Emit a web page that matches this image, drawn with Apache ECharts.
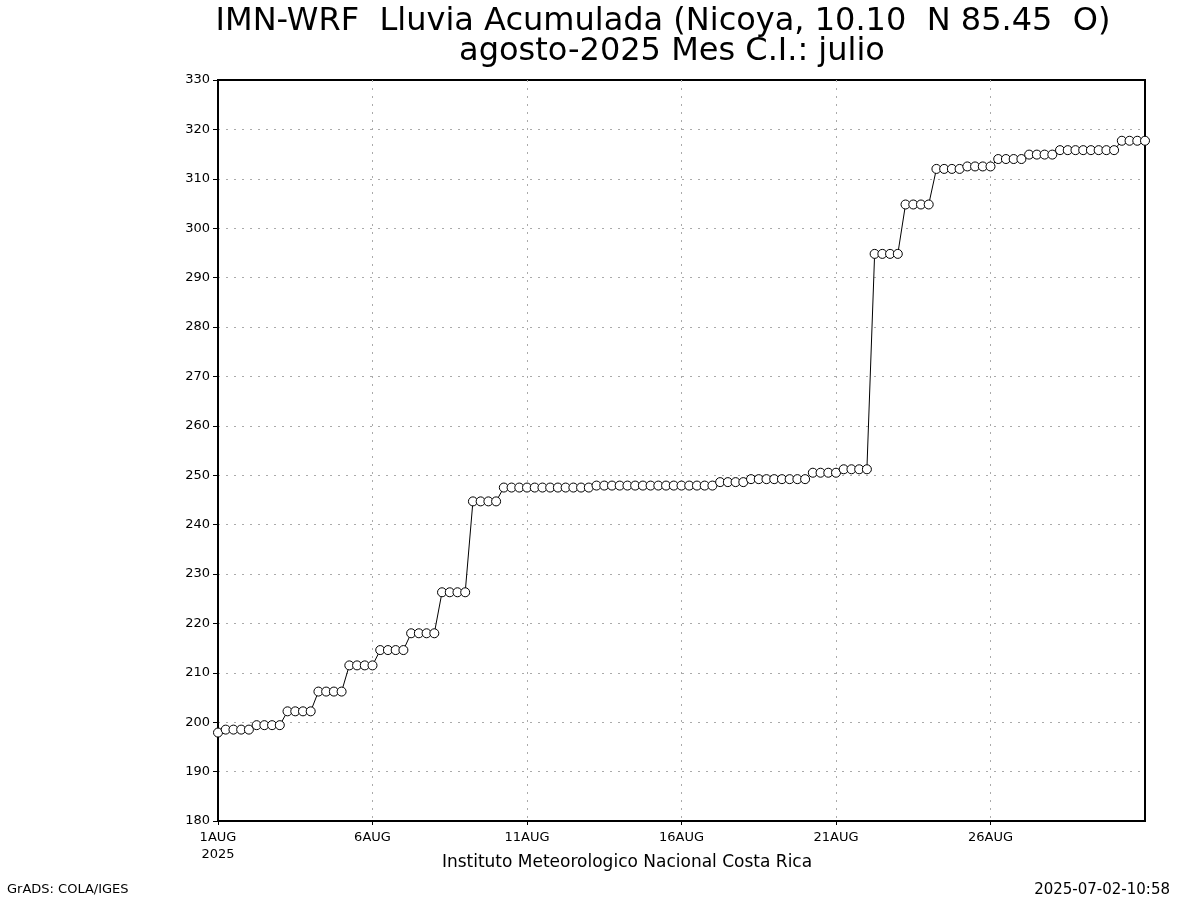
<!DOCTYPE html>
<html>
<head>
<meta charset="utf-8">
<script src="https://cdn.jsdelivr.net/npm/echarts@6/dist/echarts.min.js"></script>
<style>
html,body{margin:0;padding:0;background:#fff;}
#chart{width:1200px;height:900px;}
</style>
</head>
<body>
<div id="chart"></div>
<script>
// ---- Data ----
const titleLine1 = 'IMN-WRF  Lluvia Acumulada (Nicoya, 10.10  N 85.45  O)';
const titleLine2 = 'agosto-2025 Mes C.I.: julio';
const footerCenter = 'Instituto Meteorologico Nacional Costa Rica';
const footerLeft = 'GrADS: COLA/IGES';
const footerRight = '2025-07-02-10:58';

const xTickLabels = ['1AUG\n2025', '6AUG', '11AUG', '16AUG', '21AUG', '26AUG'];
const yTicks = { min: 180, max: 330, step: 10 };

// 6-hourly steps, 1 Aug 00Z .. 31 Aug 00Z
const hours = ['00Z', '06Z', '12Z', '18Z'];
const categories = [];
for (let d = 1; d <= 31; d++) {
  for (let h = 0; h < 4; h++) {
    if (d === 31 && h > 0) break;
    categories.push(hours[h] + d + 'AUG2025');
  }
}

// accumulated rainfall (mm)
const rainfall = [
  197.9,
  198.5, 198.5, 198.5, 198.5,
  199.4, 199.4, 199.4, 199.4,
  202.2, 202.2, 202.2, 202.2,
  206.2, 206.2, 206.2, 206.2,
  211.5, 211.5, 211.5, 211.5,
  214.6, 214.6, 214.6, 214.6,
  218.0, 218.0, 218.0, 218.0,
  226.3, 226.3, 226.3, 226.3,
  244.7, 244.7, 244.7, 244.7,
  247.5, 247.5, 247.5, 247.5, 247.5, 247.5, 247.5, 247.5, 247.5, 247.5, 247.5, 247.5,
  247.9, 247.9, 247.9, 247.9, 247.9, 247.9, 247.9, 247.9,
  247.9, 247.9, 247.9, 247.9, 247.9, 247.9, 247.9, 247.9,
  248.6, 248.6, 248.6, 248.6,
  249.2, 249.2, 249.2, 249.2, 249.2, 249.2, 249.2, 249.2,
  250.5, 250.5, 250.5, 250.5,
  251.2, 251.2, 251.2, 251.2,
  294.8, 294.8, 294.8, 294.8,
  304.8, 304.8, 304.8, 304.8,
  312.0, 312.0, 312.0, 312.0,
  312.5, 312.5, 312.5, 312.5,
  314.0, 314.0, 314.0, 314.0,
  314.9, 314.9, 314.9, 314.9,
  315.8, 315.8, 315.8, 315.8, 315.8, 315.8, 315.8, 315.8,
  317.7, 317.7, 317.7, 317.7
];

// ---- Chart ----
const FONT = 'DejaVu Sans';
const every5Days = (idx) => idx % 20 === 0 && idx < categories.length - 1;
const chart = echarts.init(document.getElementById('chart'), null, { renderer: 'canvas' });

chart.setOption({
  backgroundColor: '#ffffff',
  animation: false,
  grid: {
    left: 218, right: 55, top: 80, bottom: 79,
    show: true, borderColor: '#000', borderWidth: 2, backgroundColor: 'transparent'
  },
  xAxis: {
    type: 'category',
    data: categories,
    boundaryGap: false,
    axisLine: { show: true, lineStyle: { color: '#000', width: 2 } },
    axisTick: { show: true, interval: (i) => every5Days(i), length: 4, lineStyle: { color: '#000' } },
    axisLabel: {
      interval: (i) => every5Days(i),
      formatter: (v, i) => xTickLabels[i / 20] || '',
      color: '#000', fontFamily: FONT, fontSize: 13, lineHeight: 17, margin: 8
    },
    splitLine: { show: true, interval: (i) => every5Days(i) && i > 0, lineStyle: { color: '#aaa', type: [2, 6], width: 1 } }
  },
  yAxis: {
    type: 'value',
    min: yTicks.min, max: yTicks.max, interval: yTicks.step,
    axisLine: { show: true, lineStyle: { color: '#000', width: 2 } },
    axisTick: { show: true, length: 5, lineStyle: { color: '#000' } },
    axisLabel: { color: '#000', fontFamily: FONT, fontSize: 13, margin: 8 },
    splitLine: { show: true, showMinLine: false, showMaxLine: false, lineStyle: { color: '#aaa', type: [2, 6], width: 1 } }
  },
  series: [{
    type: 'line',
    data: rainfall,
    symbol: 'circle',
    symbolSize: 9,
    showAllSymbol: true,
    lineStyle: { color: '#000', width: 1 },
    itemStyle: { color: '#fff', borderColor: '#000', borderWidth: 1 },
    z: 3
  }],
  graphic: [
    { type: 'text', x: 663, y: 22, style: { text: titleLine1, font: '32px "' + FONT + '"', fill: '#000', align: 'center', verticalAlign: 'middle' } },
    { type: 'text', x: 672, y: 52, style: { text: titleLine2, font: '32px "' + FONT + '"', fill: '#000', align: 'center', verticalAlign: 'middle' } },
    { type: 'text', x: 627, y: 863, style: { text: footerCenter, font: '17px "' + FONT + '"', fill: '#000', align: 'center', verticalAlign: 'middle' } },
    { type: 'text', x: 7, y: 890, style: { text: footerLeft, font: '13px "' + FONT + '"', fill: '#000', align: 'left', verticalAlign: 'middle' } },
    { type: 'text', x: 1170, y: 890, style: { text: footerRight, font: '15px "' + FONT + '"', fill: '#000', align: 'right', verticalAlign: 'middle' } }
  ]
});
</script>
</body>
</html>
